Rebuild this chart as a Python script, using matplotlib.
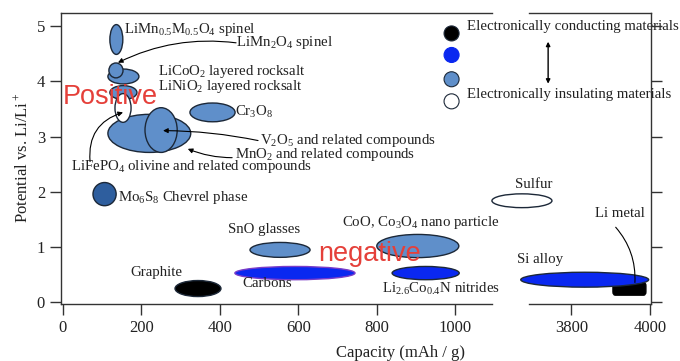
import numpy as np
import matplotlib
matplotlib.use('Agg')
import matplotlib.pyplot as plt
from matplotlib.patches import Ellipse, FancyBboxPatch

plt.rcParams['font.family'] = ['Liberation Serif', 'DejaVu Serif']
plt.rcParams['mathtext.fontset'] = 'custom'
plt.rcParams['mathtext.rm'] = 'Liberation Serif'
plt.rcParams['mathtext.it'] = 'Liberation Serif:italic'

LIGHT = '#5f8fca'
BLUE = '#0a28f0'
DARK = '#2e5e9e'
EDGE = '#1c2838'
FS = 10.7

# materials on the left (0-1100 mAh/g) part: name, capacity, potential, width, height, fill
left_names = ['V2O5', 'MnO2', 'LiNiO2', 'LiCoO2', 'LiMn2O4', 'LiMn0.5M0.5O4', 'LiFePO4',
              'Cr3O8', 'Mo6S8', 'Graphite', 'SnO', 'Carbons', 'CoO', 'Li2.6Co0.4N']
left_cap = [220, 250, 154, 154, 135, 136, 153, 381, 106, 344, 553, 591, 904, 924]
left_pot = [3.06, 3.12, 3.80, 4.09, 4.20, 4.76, 3.52, 3.44, 1.96, 0.25, 0.95, 0.53, 1.02, 0.53]
left_w = [211, 82, 69, 79, 36, 33, 41, 115, 59, 117, 153, 306, 209, 171]
left_h = [0.69, 0.81, 0.25, 0.27, 0.27, 0.54, 0.52, 0.34, 0.42, 0.29, 0.27, 0.24, 0.42, 0.24]
left_fill = [LIGHT, LIGHT, LIGHT, LIGHT, LIGHT, LIGHT, 'white', LIGHT, DARK, 'black',
             LIGHT, BLUE, LIGHT, BLUE]

# materials on the right (3700-4000 mAh/g) part
right_names = ['Sulfur', 'Si alloy']
right_cap = [3674, 3834]
right_pot = [1.84, 0.41]
right_w = [153, 326]
right_h = [0.25, 0.27]
right_fill = ['white', BLUE]

# Li metal block
li_cap = [3906, 3990]
li_pot = [0.13, 0.36]

# text labels (left x, centre y)
left_labels = [
    ('LiMn$_{0.5}$M$_{0.5}$O$_4$ spinel', 155, 4.94),
    ('LiMn$_2$O$_4$ spinel', 441, 4.70),
    ('LiCoO$_2$ layered rocksalt', 242, 4.18),
    ('LiNiO$_2$ layered rocksalt', 242, 3.91),
    ('Cr$_3$O$_8$', 438, 3.45),
    ('V$_2$O$_5$ and related compounds', 502, 2.93),
    ('MnO$_2$ and related compounds', 438, 2.68),
    ('LiFePO$_4$ olivine and related compounds', 20, 2.46),
    ('Mo$_6$S$_8$ Chevrel phase', 140, 1.90),
    ('SnO glasses', 420, 1.32),
    ('Graphite', 171, 0.54),
    ('Carbons', 456, 0.34),
    ('CoO, Co$_3$O$_4$ nano particle', 711, 1.45),
    ('Li$_{2.6}$Co$_{0.4}$N nitrides', 813, 0.25),
]
right_labels = [
    ('Sulfur', 3705, 2.13, 'center'),
    ('Li metal', 3924, 1.61, 'center'),
    ('Si alloy', 3662, 0.78, 'left'),
]

# leader lines: start (x, y) -> target (x, y), curvature
leaders = [
    ((441, 4.70), (140, 4.34), 0.15),
    ((497, 2.93), (255, 3.11), 0.05),
    ((431, 2.62), (318, 2.78), -0.1),
    ((69, 2.55), (153, 3.44), -0.4),
]

legend_y = [4.87, 4.48, 4.04, 3.64]
legend_fill = ['black', BLUE, LIGHT, 'white']
legend_text = ['Electronically conducting materials', 'Electronically insulating materials']

fig = plt.figure(figsize=(6.8, 3.61), dpi=100)
bot = 1 - 304 / 361
hgt = (304 - 13) / 361
ax1 = fig.add_axes([61 / 680, bot, (492 - 61) / 680, hgt])
ax2 = fig.add_axes([529 / 680, bot, (651 - 529) / 680, hgt])
ax2.patch.set_visible(False)

for ax in (ax1, ax2):
    ax.set_ylim(-0.03, 5.24)
    for s in ax.spines.values():
        s.set_color('#333333')
        s.set_linewidth(1.0)
    ax.tick_params(direction='out', length=8, width=1, color='#333333',
                   labelsize=12, labelcolor='#222222')

ax1.set_xlim(-5, 1093)
ax2.set_xlim(3692, 4003)
ax1.spines['right'].set_visible(False)
ax2.spines['left'].set_visible(False)
ax1.set_xticks([0, 200, 400, 600, 800, 1000])
ax1.set_yticks([0, 1, 2, 3, 4, 5])
ax2.set_xticks([3800, 4000])
ax2.set_yticks([0, 1, 2, 3, 4, 5])
ax2.yaxis.tick_right()
ax2.set_yticklabels([])

for x, y, w, h, c in zip(left_cap, left_pot, left_w, left_h, left_fill):
    ec = '#7a3cc8' if c == BLUE and w > 300 else EDGE
    ax1.add_patch(Ellipse((x, y), w, h, facecolor=c, edgecolor=ec, lw=1.0))

ax2.add_patch(FancyBboxPatch((li_cap[0], li_pot[0]), li_cap[1] - li_cap[0],
                             li_pot[1] - li_pot[0], boxstyle='round,pad=0,rounding_size=6',
                             mutation_aspect=0.01, facecolor='black', edgecolor='black',
                             clip_on=False))
for x, y, w, h, c in zip(right_cap, right_pot, right_w, right_h, right_fill):
    ax2.add_patch(Ellipse((x, y), w, h, facecolor=c, edgecolor=EDGE, lw=1.0, clip_on=False))

for t, x, y in left_labels:
    ax1.text(x, y, t, fontsize=FS, ha='left', va='center', color='#222222')
for t, x, y, ha in right_labels:
    ax2.text(x, y, t, fontsize=FS, ha=ha, va='center', color='#222222', clip_on=False)

for (sx, sy), (tx, ty), rad in leaders:
    ax1.annotate('', xy=(tx, ty), xytext=(sx, sy),
                 arrowprops=dict(arrowstyle='-|>', color='black', lw=0.8,
                                 mutation_scale=7, shrinkA=0, shrinkB=0,
                                 connectionstyle='arc3,rad=%g' % rad))
ax2.annotate('', xy=(3962, 0.36), xytext=(3913, 1.36),
             arrowprops=dict(arrowstyle='-', color='black', lw=0.8, shrinkA=0, shrinkB=0,
                             connectionstyle='arc3,rad=-0.2'), annotation_clip=False)

ax1.scatter([990] * 4, legend_y, s=117, c=legend_fill, edgecolors=[EDGE, BLUE, EDGE, EDGE],
            linewidths=0.8, zorder=5, clip_on=False)
ax1.text(1029, 4.99, legend_text[0], fontsize=FS, ha='left', va='center', color='#222222')
ax1.text(1029, 3.76, legend_text[1], fontsize=FS, ha='left', va='center', color='#222222')
ax1.annotate('', xy=(1236, 3.96), xytext=(1236, 4.72), annotation_clip=False,
             arrowprops=dict(arrowstyle='<|-|>', color='black', lw=1.0,
                             mutation_scale=6, shrinkA=0, shrinkB=0))

ax1.text(0, 3.60, 'Positive', fontsize=19.5, family=['Liberation Sans', 'DejaVu Sans'],
         color='#e5403a', ha='left', va='baseline', zorder=10)
ax1.text(650, 0.74, 'negative', fontsize=19.5, family=['Liberation Sans', 'DejaVu Sans'],
         color='#e5403a', ha='left', va='baseline', zorder=10)

fig.text(401 / 680, 1 - 353 / 361, 'Capacity (mAh / g)', fontsize=12, ha='center',
         va='center', color='#222222')
fig.text(22 / 680, 1 - 158 / 361, 'Potential vs. Li/Li$^+$', fontsize=12, ha='center',
         va='center', rotation=90, color='#222222')

fig.savefig('out.png', dpi=100)
